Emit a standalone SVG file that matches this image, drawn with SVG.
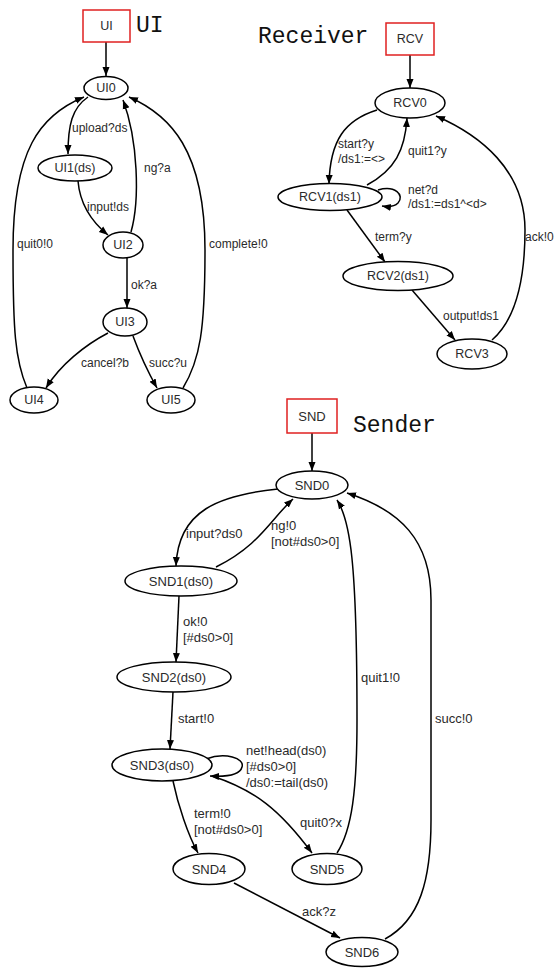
<svg xmlns="http://www.w3.org/2000/svg" width="559" height="969" viewBox="0 0 559 969">
<style>
.n ellipse{fill:#fff;stroke:#000;stroke-width:1.5}
.box rect{fill:#fff;stroke:#e02020;stroke-width:1.5}
.t{font-family:"Liberation Sans",Arial,sans-serif;font-size:12.5px;fill:#2a2a2a;text-anchor:middle;dominant-baseline:central}
.s .t{font-size:13px}
.l{font-family:"Liberation Sans",Arial,sans-serif;font-size:12px;fill:#2a2a2a}
.ls{font-size:13px}
.title{font-family:"Liberation Mono","DejaVu Sans Mono",monospace;font-size:23px;fill:#111}
#edges path{fill:none;stroke:#000;stroke-width:1.5;marker-end:url(#ah)}
</style>
<defs>
<marker id="ah" markerUnits="userSpaceOnUse" markerWidth="10" markerHeight="10" viewBox="0 0 10 10" refX="9" refY="5" orient="auto">
<path d="M0,1.5 L9,5 L0,8.5 Z" fill="#000"/>
</marker>
</defs>
<rect width="559" height="969" fill="#fff"/>

<text class="title" x="136" y="32">UI</text>
<text class="title" x="258" y="43">Receiver</text>
<text class="title" x="353" y="432">Sender</text>

<g id="edges">
<path d="M106,42 L106,76"/>
<path d="M88,97 C72,108 68,125 68,154"/>
<path d="M78,181 C80,205 92,222 108,235"/>
<path d="M131,232 C140,200 138,140 123,100"/>
<path d="M127,258 L127,308"/>
<path d="M108,333 C85,345 60,365 46,388"/>
<path d="M133,336 C140,355 148,372 157,388"/>
<path d="M27,388 C15,360 13,330 13,250 C13,150 40,115 84,97"/>
<path d="M183,388 C200,360 205,330 205,250 C205,150 170,115 129,97"/>

<path d="M410,55 L410,88"/>
<path d="M377,110 C345,120 330,140 329,184"/>
<path d="M367,185 C395,170 405,150 407,118"/>
<path d="M378,190 C395,185 405,195 398,203 C394,207 388,207 382,206"/>
<path d="M347,210 L385,262"/>
<path d="M412,290 L455,340"/>
<path d="M492,340 C515,320 525,280 525,230 C525,170 480,135 436,116"/>

<path d="M312,433 L312,471"/>
<path d="M278,489 C220,495 178,510 176,566"/>
<path d="M216,567 C260,545 270,520 293,499"/>
<path d="M179,596 L176,662"/>
<path d="M173,692 L170,749"/>
<path d="M206,759 C225,752 245,758 242,767 C240,775 228,777 210,776"/>
<path d="M173,781 C178,805 188,835 198,853"/>
<path d="M212,776 C255,790 280,810 312,853"/>
<path d="M337,853 C352,830 357,790 357,720 C357,560 350,520 337,500"/>
<path d="M234,883 L340,938"/>
<path d="M385,939 C420,920 431,880 431,820 L431,600 C431,540 400,510 347,493"/>
</g>

<g id="edge-labels">
<text class="l" x="72" y="132">upload?ds</text>
<text class="l" x="87" y="211">input!ds</text>
<text class="l" x="144" y="172">ng?a</text>
<text class="l" x="131" y="289">ok?a</text>
<text class="l" x="81" y="367">cancel?b</text>
<text class="l" x="149" y="367">succ?u</text>
<text class="l" x="17" y="248">quit0!0</text>
<text class="l" x="209" y="248">complete!0</text>

<text class="l" x="338" y="148">start?y</text>
<text class="l" x="338" y="163">/ds1:=&lt;&gt;</text>
<text class="l" x="408" y="155">quit1?y</text>
<text class="l" x="408" y="194">net?d</text>
<text class="l" x="408" y="208">/ds1:=ds1^&lt;d&gt;</text>
<text class="l" x="375" y="241">term?y</text>
<text class="l" x="443" y="320">output!ds1</text>
<text class="l" x="525" y="241">ack!0</text>

<text class="l ls" x="186" y="538">input?ds0</text>
<text class="l ls" x="271" y="530">ng!0</text>
<text class="l ls" x="271" y="546">[not#ds0&gt;0]</text>
<text class="l ls" x="183" y="626">ok!0</text>
<text class="l ls" x="183" y="642">[#ds0&gt;0]</text>
<text class="l ls" x="178" y="723">start!0</text>
<text class="l ls" x="246" y="755">net!head(ds0)</text>
<text class="l ls" x="246" y="771">[#ds0&gt;0]</text>
<text class="l ls" x="246" y="787">/ds0:=tail(ds0)</text>
<text class="l ls" x="194" y="818">term!0</text>
<text class="l ls" x="194" y="834">[not#ds0&gt;0]</text>
<text class="l ls" x="300" y="827">quit0?x</text>
<text class="l ls" x="361" y="682">quit1!0</text>
<text class="l ls" x="435" y="723">succ!0</text>
<text class="l ls" x="302" y="916">ack?z</text>
</g>

<g id="UI" class="box"><rect x="83" y="10" width="47" height="32"/><text class="t" x="106.5" y="26">UI</text></g>
<g id="UI0" class="n"><ellipse cx="106" cy="88" rx="22" ry="11.5"/><text class="t" x="106" y="88">UI0</text></g>
<g id="UI1" class="n"><ellipse cx="75" cy="168" rx="37" ry="13"/><text class="t" x="75" y="168">UI1(ds)</text></g>
<g id="UI2" class="n"><ellipse cx="123" cy="245" rx="20" ry="13"/><text class="t" x="123" y="245">UI2</text></g>
<g id="UI3" class="n"><ellipse cx="125" cy="322" rx="22" ry="14"/><text class="t" x="125" y="322">UI3</text></g>
<g id="UI4" class="n"><ellipse cx="34" cy="400" rx="24" ry="13"/><text class="t" x="34" y="400">UI4</text></g>
<g id="UI5" class="n"><ellipse cx="171" cy="400" rx="24" ry="13"/><text class="t" x="171" y="400">UI5</text></g>

<g id="RCV" class="box"><rect x="386" y="23" width="48" height="32"/><text class="t" x="410" y="39">RCV</text></g>
<g id="RCV0" class="n"><ellipse cx="410" cy="103" rx="35" ry="15"/><text class="t" x="410" y="103">RCV0</text></g>
<g id="RCV1" class="n"><ellipse cx="330" cy="197" rx="52" ry="13.5"/><text class="t" x="330" y="197">RCV1(ds1)</text></g>
<g id="RCV2" class="n"><ellipse cx="398" cy="276" rx="55" ry="14.5"/><text class="t" x="398" y="276">RCV2(ds1)</text></g>
<g id="RCV3" class="n"><ellipse cx="472" cy="354" rx="35" ry="15"/><text class="t" x="472" y="354">RCV3</text></g>

<g id="SND" class="box s"><rect x="287" y="399" width="50" height="34"/><text class="t" x="312" y="416">SND</text></g>
<g id="SND0" class="n s"><ellipse cx="312" cy="485" rx="36" ry="14"/><text class="t" x="312" y="485">SND0</text></g>
<g id="SND1" class="n s"><ellipse cx="181" cy="581" rx="56" ry="15"/><text class="t" x="181" y="581">SND1(ds0)</text></g>
<g id="SND2" class="n s"><ellipse cx="174" cy="677" rx="57" ry="15"/><text class="t" x="174" y="677">SND2(ds0)</text></g>
<g id="SND3" class="n s"><ellipse cx="162" cy="765" rx="50" ry="16"/><text class="t" x="162" y="765">SND3(ds0)</text></g>
<g id="SND4" class="n s"><ellipse cx="209" cy="869" rx="36" ry="15.5"/><text class="t" x="209" y="869">SND4</text></g>
<g id="SND5" class="n s"><ellipse cx="327" cy="869" rx="35" ry="15.5"/><text class="t" x="327" y="869">SND5</text></g>
<g id="SND6" class="n s"><ellipse cx="362" cy="952" rx="36" ry="14.5"/><text class="t" x="362" y="952">SND6</text></g>
</svg>
